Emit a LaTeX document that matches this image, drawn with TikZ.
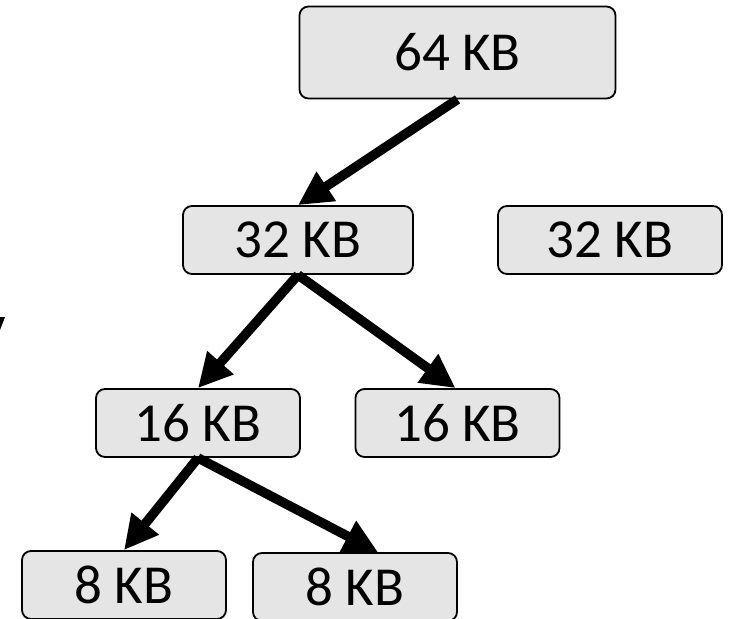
\documentclass[tikz,border=0pt]{standalone}
\usepackage{fontspec}
\setmainfont{Carlito}
\usetikzlibrary{arrows.meta}

\begin{document}
\begin{tikzpicture}[x=1pt,y=-1pt,
  block/.style={draw=black, line width=1.8pt, rounded corners=9pt,
    fill=gray!20, inner sep=0pt, font=\fontsize{55}{60}\selectfont},
  split/.style={line width=9.5pt,
    -{Triangle[length=34pt,width=33pt]}}]
  \clip (0,0) rectangle (735,618);

  % memory blocks, one row per size
  \node[block, minimum width=316pt, minimum height=92pt] (n64)  at (457.5,52.5) {64 KB};
  \node[block, minimum width=230pt, minimum height=68pt] (n32a) at (298,240) {32 KB};
  \node[block, minimum width=224pt, minimum height=68pt] (n32b) at (610,240) {32 KB};
  \node[block, minimum width=204pt, minimum height=68pt] (n16a) at (198,423) {16 KB};
  \node[block, minimum width=204pt, minimum height=68pt] (n16b) at (457.5,423) {16 KB};
  \node[block, minimum width=204pt, minimum height=68pt] (n8a)  at (124,585) {8 KB};
  \node[block, minimum width=204pt, minimum height=68pt] (n8b)  at (355,587) {8 KB};

  % splits
  \draw[split] (n64.south) -- (n32a.north);
  \draw[split] (n32a.south) -- (n16a.north);
  \draw[split] (n32a.south) -- ([xshift=-2pt]n16b.north);
  \draw[split] (n16a.south) -- (n8a.north);
  \draw[split] (n16a.south) -- ([xshift=23pt]n8b.north);

  % fragment at the left edge
  \fill (0,317) -- (5,317) -- (0,330) -- cycle;
\end{tikzpicture}
\end{document}
